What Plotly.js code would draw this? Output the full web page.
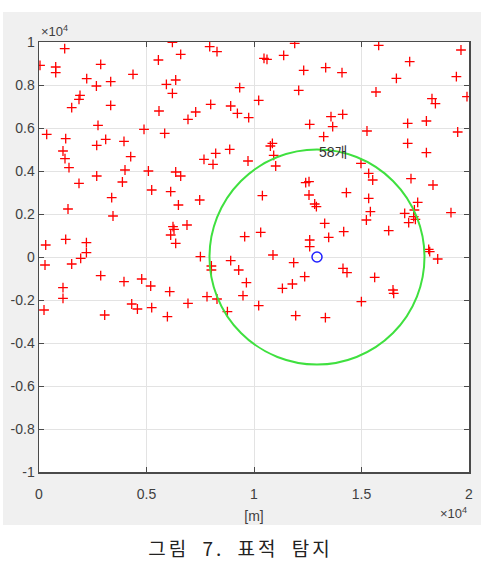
<!DOCTYPE html>
<html>
<head>
<meta charset="utf-8">
<script src="https://cdn.plot.ly/plotly-3.0.1.min.js"></script>
<style>
  html, body { margin:0; padding:0; background:#ffffff; width:481px; height:571px; overflow:hidden; }
  #chart { position:absolute; left:3px; top:12px; width:478px; height:513px; }
  #caption { position:absolute; left:0; top:534px; width:481px; text-align:center;
             font-family:"Noto Sans CJK KR", sans-serif; font-size:19px; color:#222;
             letter-spacing:3px; word-spacing:6px; }
</style>
</head>
<body>
<div id="chart"></div>
<div id="caption">그림 7. 표적 탐지</div>
<script>
// Detected/scattered targets (red +), metres
const targetX = [
  1195,47,777,777,2870,4372,2219,2670,3335,1907,1860,1521,3335,2744,358,1242,2684,3102,3953,4884,
  1116,1209,1395,4265,4000,2684,1860,3879,5088,5581,5553,6204,6590,5925,6358,6204,5846,6358,6590,
  7939,8279,11893,10465,10604,11381,12311,13334,9335,12079,10218,7986,8916,9228,7288,6930,9753,12590,13241,8870,
  8218,7674,8093,9721,10762,10855,10916,11009,12404,12558,
  15799,19627,17241,14093,16623,19413,15674,18278,18437,19906,13581,14125,13660,15255,17148,18018,19474,17148,18018,14976,
  15334,15521,17302,18325,
  5242,6125,3381,6484,1349,3442,6232,6279,6125,6358,312,1242,2205,2205,1939,279,1521,2870,3953,4777,
  5195,6079,1116,1116,233,4312,4577,5242,5972,3056,
  7474,10390,12558,12823,12902,6883,9567,10311,13288,12590,12590,7507,8916,10883,11846,8018,8018,9288,9646,12358,
  11786,11321,9488,7814,8279,6930,10218,8763,11939,13321,
  14297,15334,15413,15227,17613,17460,17009,17427,17506,17195,19162,14172,13474,16265,18125,18172,18544,14139,14325,15613,
  16465,16497,14995
];
const targetY = [
  9688,8916,8837,8572,8963,8498,8293,7954,8154,7521,7335,6944,7056,6126,5707,5502,5195,5475,5382,5940,
  4930,4572,4154,4665,4047,3768,3428,3489,4000,6791,9163,9980,9428,8033,8233,7614,5754,3954,3768,
  9781,9549,9940,9242,9195,9381,8684,8805,7874,7754,7288,7102,7023,6684,6744,6405,6479,6172,5595,5009,
  4823,4544,4312,4465,5163,5289,4730,4233,3456,3503,
  9847,9628,9084,8572,8312,8386,7674,7363,7130,7456,6526,6637,6061,5861,6219,6326,5814,5289,4851,4358,
  3893,3582,3642,3349,
  3116,3037,2758,2419,2233,1907,1410,1289,1023,638,558,823,665,200,-60,-372,-325,-869,-1148,-1023,
  -1348,-1613,-1428,-1920,-2465,-2186,-2418,-2358,-2776,-2697,
  2651,2851,2884,2465,2340,1489,945,1149,1568,791,480,14,-172,93,-265,-418,-604,-604,-1195,-916,
  -1255,-1455,-1800,-1846,-1953,-2153,-2265,-2544,-2730,-2823,
  2991,2730,2107,1721,2544,2186,2033,1875,1754,1596,2061,1177,917,1223,358,247,-93,-526,-730,-944,
  -1535,-1688,-2079
];
// Sensor position (blue o) and detection radius
const sensorX = [12930];
const sensorY = [0];
const detectRadius = 5000;
const detectLabel = "58개";

// Axis ticks (values in metres, labels in units of 10^4)
const xTickVals = [0, 5000, 10000, 15000, 20000];
const xTickText = ["0", "0.5", "1", "1.5", "2"];
const yTickVals = [-10000, -8000, -6000, -4000, -2000, 0, 2000, 4000, 6000, 8000, 10000];
const yTickText = ["-1", "-0.8", "-0.6", "-0.4", "-0.2", "0", "0.2", "0.4", "0.6", "0.8", "1"];

const axisColor = "#4a4a4a";
const gridColor = "#e3e3e3";
const tickFont = {family: "Liberation Sans, Arial, sans-serif", size: 14, color: "#404040"};

const traces = [
  {
    type: "scatter", mode: "markers", x: targetX, y: targetY,
    marker: {symbol: "cross-thin-open", size: 7, color: "#ff0000", line: {color: "#ff0000", width: 1.3}},
    hoverinfo: "x+y"
  },
  {
    type: "scatter", mode: "markers", x: sensorX, y: sensorY,
    marker: {symbol: "circle-open", size: 10, color: "#2020ff", line: {color: "#2020ff", width: 1.5}}
  }
];

const layout = {
  width: 478, height: 513,
  margin: {l: 36, r: 12, t: 30, b: 53},
  paper_bgcolor: "#f0f0f0",
  plot_bgcolor: "#ffffff",
  showlegend: false,
  xaxis: {
    range: [0, 20000], tickvals: xTickVals, ticktext: xTickText,
    showgrid: true, gridcolor: gridColor, gridwidth: 1, zeroline: false,
    showline: true, linecolor: axisColor, linewidth: 1.5, mirror: "ticks",
    ticks: "inside", ticklen: 5, tickcolor: axisColor, tickwidth: 1,
    ticklabelstandoff: 9,
    tickfont: tickFont,
    title: {text: "[m]", font: tickFont, standoff: 10}
  },
  yaxis: {
    range: [-10000, 10000], tickvals: yTickVals, ticktext: yTickText,
    showgrid: true, gridcolor: gridColor, gridwidth: 1, zeroline: false,
    showline: true, linecolor: axisColor, linewidth: 1.5, mirror: "ticks",
    ticks: "inside", ticklen: 5, tickcolor: axisColor, tickwidth: 1,
    tickfont: tickFont
  },
  shapes: [
    {
      type: "circle", xref: "x", yref: "y",
      x0: sensorX[0] - detectRadius, x1: sensorX[0] + detectRadius,
      y0: sensorY[0] - detectRadius, y1: sensorY[0] + detectRadius,
      line: {color: "#3fe03f", width: 2}, layer: "above"
    }
  ],
  annotations: [
    {
      text: detectLabel, xref: "x", yref: "y", x: sensorX[0], y: sensorY[0] + detectRadius * 0.975,
      xanchor: "left", yanchor: "middle", showarrow: false,
      font: {family: "Liberation Sans, Noto Sans CJK KR, sans-serif", size: 14, color: "#333333"}
    },
    {
      text: "×10<sup>4</sup>", xref: "paper", yref: "paper", x: 0, y: 1,
      xanchor: "left", yanchor: "bottom", showarrow: false, yshift: 1,
      font: {family: "Liberation Sans, Arial, sans-serif", size: 13, color: "#404040"}
    },
    {
      text: "×10<sup>4</sup>", xref: "paper", yref: "paper", x: 1, y: -0.118,
      xanchor: "right", yanchor: "bottom", showarrow: false,
      font: {family: "Liberation Sans, Arial, sans-serif", size: 13, color: "#404040"}
    }
  ]
};

Plotly.newPlot("chart", traces, layout, {displayModeBar: false, staticPlot: true});
</script>
</body>
</html>
